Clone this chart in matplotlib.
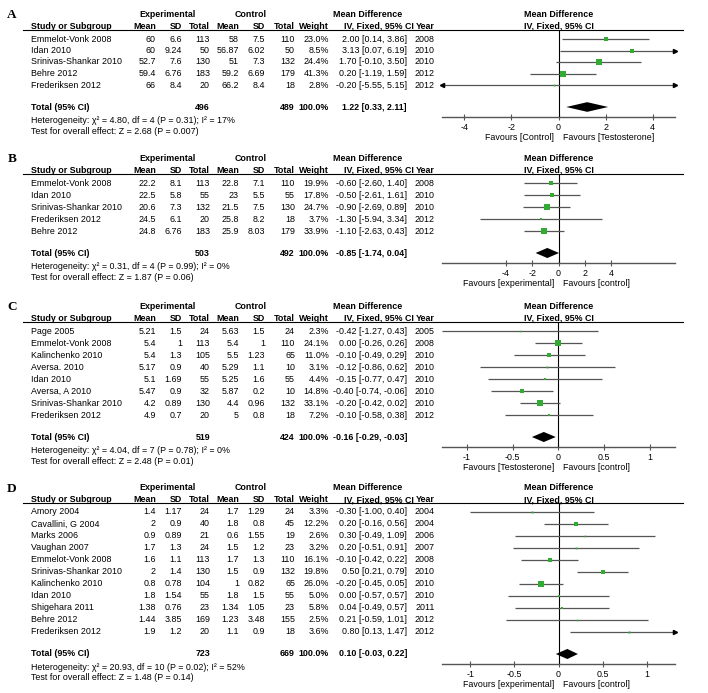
import matplotlib.pyplot as plt

plt.rcParams['font.family'] = ['Liberation Sans', 'DejaVu Sans']
plt.rcParams['font.size'] = 6.4

# ---------------- data ----------------
# A
a_study = ["Emmelot-Vonk 2008", "Idan 2010", "Srinivas-Shankar 2010", "Behre 2012", "Frederiksen 2012"]
a_exp_mean = [60, 60, 52.7, 59.4, 66]
a_exp_sd = [6.6, 9.24, 7.6, 6.76, 8.4]
a_exp_n = [113, 50, 130, 183, 20]
a_ctl_mean = [58, 56.87, 51, 59.2, 66.2]
a_ctl_sd = [7.5, 6.02, 7.3, 6.69, 8.4]
a_ctl_n = [110, 50, 132, 179, 18]
a_weight = [23.0, 8.5, 24.4, 41.3, 2.8]
a_md = [2.00, 3.13, 1.70, 0.20, -0.20]
a_lo = [0.14, 0.07, -0.10, -1.19, -5.55]
a_hi = [3.86, 6.19, 3.50, 1.59, 5.15]
a_year = [2008, 2010, 2010, 2012, 2012]
a_total = [496, 489, 1.22, 0.33, 2.11]
a_het = "Heterogeneity: χ² = 4.80, df = 4 (P = 0.31); I² = 17%"
a_test = "Test for overall effect: Z = 2.68 (P = 0.007)"
a_ticks = [-4, -2, 0, 2, 4]
a_fav = ["Favours [Control]", "Favours [Testosterone]"]

# B
b_study = ["Emmelot-Vonk 2008", "Idan 2010", "Srinivas-Shankar 2010", "Frederiksen 2012", "Behre 2012"]
b_exp_mean = [22.2, 22.5, 20.6, 24.5, 24.8]
b_exp_sd = [8.1, 5.8, 7.3, 6.1, 6.76]
b_exp_n = [113, 55, 132, 20, 183]
b_ctl_mean = [22.8, 23, 21.5, 25.8, 25.9]
b_ctl_sd = [7.1, 5.5, 7.5, 8.2, 8.03]
b_ctl_n = [110, 55, 130, 18, 179]
b_weight = [19.9, 17.8, 24.7, 3.7, 33.9]
b_md = [-0.60, -0.50, -0.90, -1.30, -1.10]
b_lo = [-2.60, -2.61, -2.69, -5.94, -2.63]
b_hi = [1.40, 1.61, 0.89, 3.34, 0.43]
b_year = [2008, 2010, 2010, 2012, 2012]
b_total = [503, 492, -0.85, -1.74, 0.04]
b_het = "Heterogeneity: χ² = 0.31, df = 4 (P = 0.99); I² = 0%"
b_test = "Test for overall effect: Z = 1.87 (P = 0.06)"
b_ticks = [-4, -2, 0, 2, 4]
b_fav = ["Favours [experimental]", "Favours [control]"]

# C
c_study = ["Page 2005", "Emmelot-Vonk 2008", "Kalinchenko 2010", "Aversa. 2010", "Idan 2010",
           "Aversa, A 2010", "Srinivas-Shankar 2010", "Frederiksen 2012"]
c_exp_mean = [5.21, 5.4, 5.4, 5.17, 5.1, 5.47, 4.2, 4.9]
c_exp_sd = [1.5, 1, 1.3, 0.9, 1.69, 0.9, 0.89, 0.7]
c_exp_n = [24, 113, 105, 40, 55, 32, 130, 20]
c_ctl_mean = [5.63, 5.4, 5.5, 5.29, 5.25, 5.87, 4.4, 5]
c_ctl_sd = [1.5, 1, 1.23, 1.1, 1.6, 0.2, 0.96, 0.8]
c_ctl_n = [24, 110, 65, 10, 55, 10, 132, 18]
c_weight = [2.3, 24.1, 11.0, 3.1, 4.4, 14.8, 33.1, 7.2]
c_md = [-0.42, 0.00, -0.10, -0.12, -0.15, -0.40, -0.20, -0.10]
c_lo = [-1.27, -0.26, -0.49, -0.86, -0.77, -0.74, -0.42, -0.58]
c_hi = [0.43, 0.26, 0.29, 0.62, 0.47, -0.06, 0.02, 0.38]
c_year = [2005, 2008, 2010, 2010, 2010, 2010, 2010, 2012]
c_total = [519, 424, -0.16, -0.29, -0.03]
c_het = "Heterogeneity: χ² = 4.04, df = 7 (P = 0.78); I² = 0%"
c_test = "Test for overall effect: Z = 2.48 (P = 0.01)"
c_ticks = [-1, -0.5, 0, 0.5, 1]
c_fav = ["Favours [Testosterone]", "Favours [control]"]

# D
d_study = ["Amory 2004", "Cavallini, G 2004", "Marks 2006", "Vaughan 2007", "Emmelot-Vonk 2008",
           "Srinivas-Shankar 2010", "Kalinchenko 2010", "Idan 2010", "Shigehara 2011",
           "Behre 2012", "Frederiksen 2012"]
d_exp_mean = [1.4, 2, 0.9, 1.7, 1.6, 2, 0.8, 1.8, 1.38, 1.44, 1.9]
d_exp_sd = [1.17, 0.9, 0.89, 1.3, 1.1, 1.4, 0.78, 1.54, 0.76, 3.85, 1.2]
d_exp_n = [24, 40, 21, 24, 113, 130, 104, 55, 23, 169, 20]
d_ctl_mean = [1.7, 1.8, 0.6, 1.5, 1.7, 1.5, 1, 1.8, 1.34, 1.23, 1.1]
d_ctl_sd = [1.29, 0.8, 1.55, 1.2, 1.3, 0.9, 0.82, 1.5, 1.05, 3.48, 0.9]
d_ctl_n = [24, 45, 19, 23, 110, 132, 65, 55, 23, 155, 18]
d_weight = [3.3, 12.2, 2.6, 3.2, 16.1, 19.8, 26.0, 5.0, 5.8, 2.5, 3.6]
d_md = [-0.30, 0.20, 0.30, 0.20, -0.10, 0.50, -0.20, 0.00, 0.04, 0.21, 0.80]
d_lo = [-1.00, -0.16, -0.49, -0.51, -0.42, 0.21, -0.45, -0.57, -0.49, -0.59, 0.13]
d_hi = [0.40, 0.56, 1.09, 0.91, 0.22, 0.79, 0.05, 0.57, 0.57, 1.01, 1.47]
d_year = [2004, 2004, 2006, 2007, 2008, 2010, 2010, 2010, 2011, 2012, 2012]
d_total = [723, 669, 0.10, -0.03, 0.22]
d_het = "Heterogeneity: χ² = 20.93, df = 10 (P = 0.02); I² = 52%"
d_test = "Test for overall effect: Z = 1.48 (P = 0.14)"
d_ticks = [-1, -0.5, 0, 0.5, 1]
d_fav = ["Favours [experimental]", "Favours [control]"]

panels = [
    ("A", a_study, a_exp_mean, a_exp_sd, a_exp_n, a_ctl_mean, a_ctl_sd, a_ctl_n, a_weight,
     a_md, a_lo, a_hi, a_year, a_total, a_het, a_test, a_ticks, a_fav),
    ("B", b_study, b_exp_mean, b_exp_sd, b_exp_n, b_ctl_mean, b_ctl_sd, b_ctl_n, b_weight,
     b_md, b_lo, b_hi, b_year, b_total, b_het, b_test, b_ticks, b_fav),
    ("C", c_study, c_exp_mean, c_exp_sd, c_exp_n, c_ctl_mean, c_ctl_sd, c_ctl_n, c_weight,
     c_md, c_lo, c_hi, c_year, c_total, c_het, c_test, c_ticks, c_fav),
    ("D", d_study, d_exp_mean, d_exp_sd, d_exp_n, d_ctl_mean, d_ctl_sd, d_ctl_n, d_weight,
     d_md, d_lo, d_hi, d_year, d_total, d_het, d_test, d_ticks, d_fav),
]

# layout (pixels): first study row y, row step, forest x limits
layout = {
    "A": (39, 11.5, (-4.95, 4.95)),
    "B": (183, 12, (-8.85, 8.85)),
    "C": (331, 12, (-1.27, 1.27)),
    "D": (512, 12, (-1.32, 1.32)),
}

W, H = 708, 693
fig = plt.figure(figsize=(W / 100, H / 100), dpi=100)
bg = fig.add_axes([0, 0, 1, 1])
bg.set_xlim(0, W)
bg.set_ylim(H, 0)
bg.axis('off')

green = '#33aa33'
linec = '#555555'
fx0, fx1 = 442, 675  # forest plot horizontal extent
fcx = (fx0 + fx1) / 2

# right edges of numeric columns
cols = [156, 182, 210, 239, 265, 295, 329]
x_ci, x_year, x_name = 407, 435, 31

for (lab, study, em, es, en, cm, cs, cn, wt, md, lo, hi, yr, tot, het, test, ticks, fav) in panels:
    row0, step, xl = layout[lab]
    n = len(study)
    rows = [row0 + i * step for i in range(n)]
    head2 = row0 - 12.5
    head1 = head2 - 12
    line_y = row0 - 9
    total_y = rows[-1] + 22
    axis_y = total_y + 9.5

    bg.text(12, head1 + 1, lab, family='Liberation Serif', fontweight='bold', fontsize=9.5,
            ha='center', va='center')
    # headers
    bg.text(168, head1, "Experimental", fontweight='bold', ha='center', va='center')
    bg.text(251, head1, "Control", fontweight='bold', ha='center', va='center')
    bg.text(368, head1, "Mean Difference", fontweight='bold', ha='center', va='center')
    bg.text(fcx, head1, "Mean Difference", fontweight='bold', ha='center', va='center')
    bg.text(x_name, head2, "Study or Subgroup", fontweight='bold', ha='left', va='center')
    for x, h in zip(cols, ["Mean", "SD", "Total", "Mean", "SD", "Total", "Weight"]):
        bg.text(x, head2, h, fontweight='bold', ha='right', va='center')
    bg.text(414, head2, "IV, Fixed, 95% CI", fontweight='bold', ha='right', va='center')
    bg.text(x_year, head2, "Year", fontweight='bold', ha='right', va='center')
    bg.text(fcx, head2, "IV, Fixed, 95% CI", fontweight='bold', ha='center', va='center')
    bg.plot([23, 683], [line_y, line_y], color='k', lw=0.8)

    # study rows
    for i in range(n):
        y = rows[i]
        bg.text(x_name, y, study[i], ha='left', va='center')
        vals = [f"{em[i]:g}", f"{es[i]:g}", f"{en[i]}", f"{cm[i]:g}", f"{cs[i]:g}",
                f"{cn[i]}", f"{wt[i]:.1f}%"]
        for x, v in zip(cols, vals):
            bg.text(x, y, v, ha='right', va='center')
        bg.text(x_ci, y, f"{md[i]:.2f} [{lo[i]:.2f}, {hi[i]:.2f}]", ha='right', va='center')
        bg.text(x_year, y, str(yr[i]), ha='right', va='center')

    # total rows
    bg.text(x_name, total_y, "Total (95% CI)", fontweight='bold', ha='left', va='center')
    bg.text(cols[2], total_y, str(tot[0]), fontweight='bold', ha='right', va='center')
    bg.text(cols[5], total_y, str(tot[1]), fontweight='bold', ha='right', va='center')
    bg.text(cols[6], total_y, "100.0%", fontweight='bold', ha='right', va='center')
    bg.text(x_ci, total_y, f"{tot[2]:.2f} [{tot[3]:.2f}, {tot[4]:.2f}]", fontweight='bold',
            ha='right', va='center')
    bg.text(x_name, total_y + 13.5, het, ha='left', va='center')
    bg.text(x_name, total_y + 24, test, ha='left', va='center')

    # forest axes: y in row units
    ax = fig.add_axes([fx0 / W, 1 - axis_y / H, (fx1 - fx0) / W, (axis_y - line_y) / H])
    ax.set_xlim(*xl)
    ax.set_ylim((axis_y - row0) / step, (line_y - row0) / step)
    ax.patch.set_alpha(0)
    for s in ['top', 'left', 'right']:
        ax.spines[s].set_visible(False)
    ax.spines['bottom'].set_color(linec)
    ax.spines['bottom'].set_linewidth(1.0)
    ax.set_yticks([])
    ax.set_xticks(ticks)
    ax.set_xticklabels([f"{t:g}" for t in ticks])
    ax.tick_params(axis='x', direction='inout', length=4, width=0.8, color=linec, pad=2.5,
                   labelsize=6.4)
    ax.axvline(0, color='k', lw=0.8)

    for i in range(n):
        a = max(lo[i], xl[0])
        b = min(hi[i], xl[1])
        ax.plot([a, b], [i, i], color=linec, lw=0.9, solid_capstyle='butt')
        if hi[i] > xl[1]:
            ax.plot([xl[1]], [i], marker='>', ms=3, color='k', clip_on=False)
        if lo[i] < xl[0]:
            ax.plot([xl[0]], [i], marker='<', ms=3, color='k', clip_on=False)
        ax.plot([md[i]], [i], marker='s', ms=0.75 * wt[i] ** 0.5, color=green, mec=green, mew=0)

    ty = (total_y - row0) / step
    hh = 0.42
    ax.fill([tot[3], tot[2], tot[4], tot[2]], [ty, ty - hh, ty, ty + hh], color='k', lw=0)

    trans = ax.get_xaxis_transform()
    ax.annotate(fav[0], xy=(0, 0), xycoords=trans, xytext=(-3, -15), textcoords='offset points',
                ha='right', va='center')
    ax.annotate(fav[1], xy=(0, 0), xycoords=trans, xytext=(3, -15), textcoords='offset points',
                ha='left', va='center')

fig.savefig("out.png", dpi=100)
